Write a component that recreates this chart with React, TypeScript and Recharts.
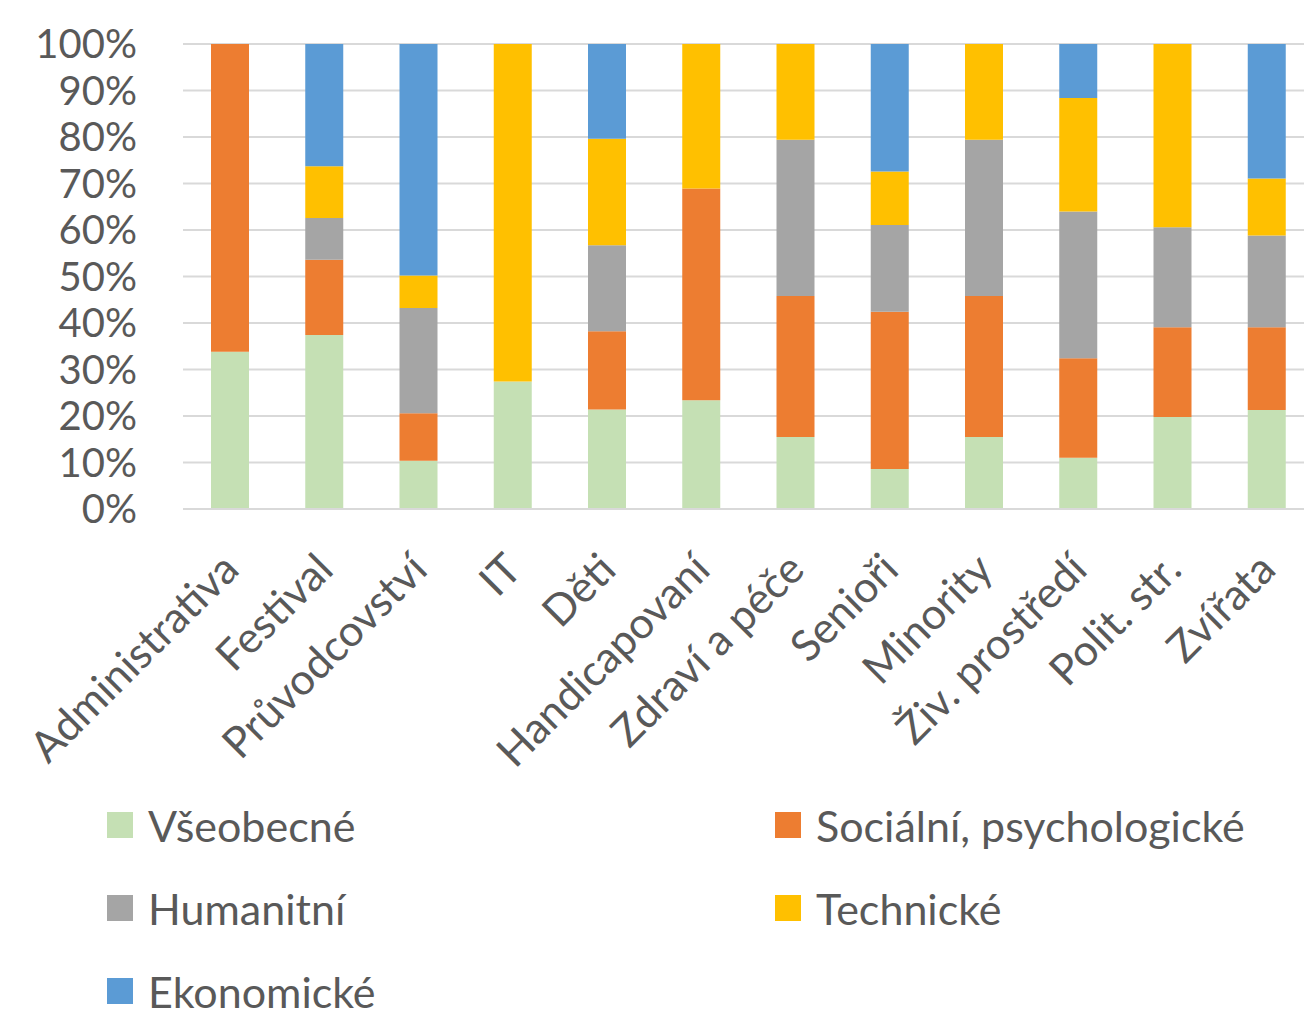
import { BarChart, Bar, XAxis, YAxis, CartesianGrid, Legend } from "recharts";

const categories = [
  "Administrativa",
  "Festival",
  "Průvodcovství",
  "IT",
  "Děti",
  "Handicapovaní",
  "Zdraví a péče",
  "Senioři",
  "Minority",
  "Živ. prostředí",
  "Polit. str.",
  "Zvířata",
];

// shares in %, stacked bottom to top
const vseobecne = [33.8, 37.4, 10.4, 27.4, 21.4, 23.4, 15.5, 8.6, 15.5, 11.0, 19.8, 21.3];
const socialni = [66.2, 16.2, 10.2, 0, 16.8, 45.5, 30.3, 33.8, 30.3, 21.4, 19.3, 17.8];
const humanitni = [0, 9.0, 22.6, 0, 18.5, 0, 33.6, 18.7, 33.6, 31.6, 21.5, 19.7];
const technicke = [0, 11.1, 7.0, 72.6, 22.9, 31.1, 20.6, 11.5, 20.6, 24.4, 39.4, 12.3];
const ekonomicke = [0, 26.3, 49.8, 0, 20.4, 0, 0, 27.4, 0, 11.6, 0, 28.9];

const yTicks = [0, 0.1, 0.2, 0.3, 0.4, 0.5, 0.6, 0.7, 0.8, 0.9, 1];

const series = [
  { key: "vseobecne", name: "Všeobecné", color: "#C5E0B4", values: vseobecne },
  { key: "socialni", name: "Sociální, psychologické", color: "#ED7D31", values: socialni },
  { key: "humanitni", name: "Humanitní", color: "#A5A5A5", values: humanitni },
  { key: "technicke", name: "Technické", color: "#FFC000", values: technicke },
  { key: "ekonomicke", name: "Ekonomické", color: "#5B9BD5", values: ekonomicke },
];

const data = categories.map((cat, i) => {
  const row: Record<string, string | number> = { cat };
  series.forEach((s) => (row[s.key] = s.values[i]));
  return row;
});

const FONT = "Lato, 'Open Sans', sans-serif";
const TEXT = "#595959";
const LABEL_SIZE = 43;

function XTick({ x, y, payload }: any) {
  const px = x + 11;
  const py = y + 55;
  return (
    <text
      x={px}
      y={py}
      textAnchor="end"
      transform={`rotate(-45 ${px} ${py})`}
      fontSize={LABEL_SIZE}
      fontFamily={FONT}
      fill={TEXT}
    >
      {payload.value}
    </text>
  );
}

// legend drawn in series order, two columns like the original
function LegendBox() {
  return (
    <div
      style={{
        position: "relative",
        height: 211,
        width: 1304,
        fontFamily: FONT,
        fontSize: LABEL_SIZE,
        color: TEXT,
      }}
    >
      {series.map((s, i) => (
        <div
          key={s.key}
          style={{
            position: "absolute",
            left: i % 2 === 0 ? 107 : 775,
            top: 26 + Math.floor(i / 2) * 83 - 27,
            height: 54,
            display: "flex",
            alignItems: "center",
            whiteSpace: "nowrap",
          }}
        >
          <span style={{ display: "inline-block", width: 26, height: 26, background: s.color, marginRight: 15 }} />
          <span>{s.name}</span>
        </div>
      ))}
    </div>
  );
}

export default function App() {
  return (
    <div
      style={{
        position: "fixed",
        left: 0,
        top: 0,
        width: 1304,
        height: 1010,
        overflow: "hidden",
        background: "#fff",
      }}
    >
      <BarChart
        width={1314}
        height={1010}
        data={data}
        stackOffset="expand"
        barSize={38}
        margin={{ top: 44, right: 0, bottom: 0, left: 0 }}
      >
        <CartesianGrid vertical={false} stroke="#D9D9D9" strokeWidth={2} />
        <XAxis
          dataKey="cat"
          interval={0}
          height={290}
          tick={<XTick />}
          tickLine={false}
          axisLine={{ stroke: "#D9D9D9", strokeWidth: 2 }}
        />
        <YAxis
          width={183}
          domain={[0, 1]}
          ticks={yTicks}
          interval={0}
          tickFormatter={(v) => `${Math.round(v * 100)}%`}
          tick={{ fontSize: 40, fill: TEXT, fontFamily: FONT }}
          axisLine={false}
          tickLine={false}
          tickSize={6}
          tickMargin={40}
        />
        <Legend verticalAlign="bottom" align="left" content={<LegendBox />} />
        {series.map((s) => (
          <Bar key={s.key} dataKey={s.key} name={s.name} stackId="a" fill={s.color} isAnimationActive={false} />
        ))}
      </BarChart>
    </div>
  );
}
